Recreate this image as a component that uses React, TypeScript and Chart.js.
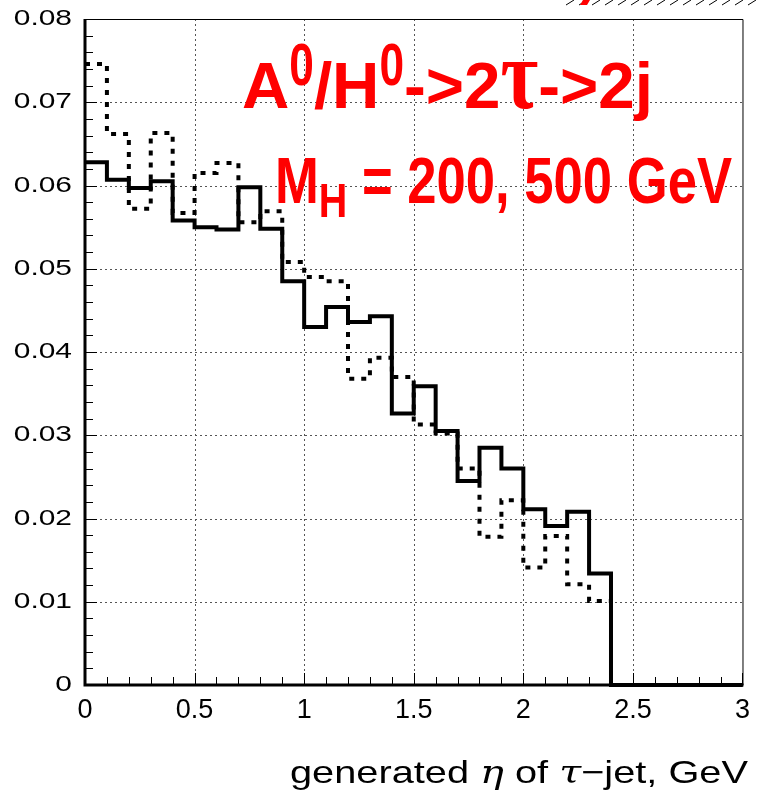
import React, { useEffect, useRef } from "react";
import { Chart, registerables } from "chart.js";

Chart.register(...registerables);

// Bin edges (eta), 0.1 wide bins
const binEdges = [
  0, 0.1, 0.2, 0.3, 0.4, 0.5, 0.6, 0.7, 0.8, 0.9, 1.0, 1.1, 1.2, 1.3, 1.4, 1.5,
  1.6, 1.7, 1.8, 1.9, 2.0, 2.1, 2.2, 2.3, 2.4, 2.5, 2.6, 2.7, 2.8, 2.9, 3.0,
];

// Solid histogram (M_H = 200 GeV)
const solidValues = [
  0.0628, 0.0607, 0.0597, 0.0605, 0.0558, 0.055, 0.0547, 0.0598, 0.0548, 0.0485,
  0.043, 0.0454, 0.0436, 0.0443, 0.0326, 0.0359, 0.0305, 0.0245, 0.0285, 0.026,
  0.0211, 0.0191, 0.0208, 0.0134, 0, 0, 0, 0, 0, 0,
];

// Dotted histogram (M_H = 500 GeV)
const dottedValues = [
  0.0746, 0.0662, 0.0572, 0.0663, 0.0567, 0.0615, 0.0627, 0.0556, 0.0569, 0.0508,
  0.049, 0.0485, 0.0368, 0.0393, 0.037, 0.0313, 0.0302, 0.026, 0.0178, 0.0222,
  0.0141, 0.0179, 0.0121, 0.0101, 0, 0, 0, 0, 0, 0,
];

const xTickLabels = ["0", "0.5", "1", "1.5", "2", "2.5", "3"];
const yTickValues = [0, 0.01, 0.02, 0.03, 0.04, 0.05, 0.06, 0.07, 0.08];
const yTickLabels = ["0", "0.01", "0.02", "0.03", "0.04", "0.05", "0.06", "0.07", "0.08"];
const xGridValues = [0.5, 1.0, 1.5, 2.0, 2.5];
const yGridValues = [0.01, 0.02, 0.03, 0.04, 0.05, 0.06, 0.07];

// point i (left edge of bin i) carries bin i's value; the last edge repeats the last bin
const toPoints = (vals: number[]) =>
  binEdges.map((x, i) => ({ x, y: vals[Math.min(i, vals.length - 1)] }));

type Seg = { text: string; font: string; dy?: number; sx?: number; sy?: number };

function drawRich(
  ctx: CanvasRenderingContext2D,
  segs: Seg[],
  left: number,
  baseline: number,
  targetWidth: number,
  color: string
) {
  let total = 0;
  const widths = segs.map((s) => {
    ctx.font = s.font;
    const w = ctx.measureText(s.text).width * (s.sx ?? 1);
    total += w;
    return w;
  });
  const k = targetWidth / total;
  let x = left;
  segs.forEach((s, i) => {
    ctx.save();
    ctx.translate(x, baseline + (s.dy ?? 0));
    ctx.scale(k * (s.sx ?? 1), s.sy ?? 1);
    ctx.font = s.font;
    ctx.fillStyle = color;
    ctx.textAlign = "left";
    ctx.textBaseline = "alphabetic";
    ctx.fillText(s.text, 0, 0);
    ctx.restore();
    x += widths[i] * k;
  });
}

const decor = {
  id: "decor",
  beforeDatasetsDraw(chart: any) {
    const { ctx, chartArea: a, scales } = chart;
    const xs = scales.x;
    const ys = scales.y;
    ctx.save();
    ctx.strokeStyle = "#555";
    ctx.lineWidth = 1;
    ctx.setLineDash([2, 3]);
    yGridValues.forEach((v) => {
      const py = Math.round(ys.getPixelForValue(v)) + 0.5;
      ctx.beginPath();
      ctx.moveTo(a.left, py);
      ctx.lineTo(a.right, py);
      ctx.stroke();
    });
    xGridValues.forEach((v) => {
      const px = Math.round(xs.getPixelForValue(v)) + 0.5;
      ctx.beginPath();
      ctx.moveTo(px, a.top);
      ctx.lineTo(px, a.bottom);
      ctx.stroke();
    });
    ctx.restore();
  },
  afterDraw(chart: any) {
    const { ctx, chartArea: a, scales } = chart;
    const xs = scales.x;
    const ys = scales.y;
    ctx.save();
    ctx.setLineDash([]);
    ctx.strokeStyle = "#000";
    // thin top / right frame
    ctx.lineWidth = 1;
    ctx.beginPath();
    ctx.moveTo(a.left, a.top + 0.5);
    ctx.lineTo(a.right + 0.5, a.top + 0.5);
    ctx.lineTo(a.right + 0.5, a.bottom);
    ctx.stroke();
    // minor ticks
    for (let i = 0; i <= 40; i++) {
      const py = Math.round(ys.getPixelForValue(i * 0.002)) + 0.5;
      const len = i % 5 === 0 ? 12 : 8;
      ctx.beginPath();
      ctx.moveTo(a.left, py);
      ctx.lineTo(a.left + len, py);
      ctx.stroke();
    }
    for (let i = 0; i <= 30; i++) {
      const px = Math.round(xs.getPixelForValue(i * 0.1)) + 0.5;
      const len = i % 5 === 0 ? 12 : 8;
      ctx.beginPath();
      ctx.moveTo(px, a.bottom);
      ctx.lineTo(px, a.bottom - len);
      ctx.stroke();
    }
    // thick left / bottom axes
    ctx.lineWidth = 3;
    ctx.beginPath();
    ctx.moveTo(a.left, a.top);
    ctx.lineTo(a.left, a.bottom);
    ctx.lineTo(a.right + 1, a.bottom);
    ctx.stroke();

    // y tick labels (wide font)
    ctx.fillStyle = "#000";
    yTickValues.forEach((v, i) => {
      const py = ys.getPixelForValue(v);
      ctx.save();
      ctx.translate(72, py);
      ctx.scale(1.36, 1);
      ctx.font = '22px "Liberation Sans"';
      ctx.textAlign = "right";
      ctx.textBaseline = "middle";
      ctx.fillText(yTickLabels[i], 0, 0);
      ctx.restore();
    });

    // red annotation, line 1
    const b64 = 'bold 64px "Liberation Sans"';
    const sup: Seg = { text: "0", font: 'bold 60px "Liberation Sans"', sx: 0.72, dy: -23 };
    drawRich(
      ctx,
      [
        { text: "A", font: b64 },
        sup,
        { text: "/H", font: b64 },
        sup,
        { text: "->2", font: b64 },
        { text: "τ", font: 'bold 80px "Liberation Serif"', sy: 1.25 },
        { text: "->2j", font: b64 },
      ],
      242,
      108,
      411,
      "#ff0000"
    );
    // red annotation, line 2
    drawRich(
      ctx,
      [
        { text: "M", font: b64 },
        { text: "H", font: 'bold 48px "Liberation Sans"', dy: 14 },
        { text: " = 200, 500 GeV", font: b64 },
      ],
      275,
      203,
      457,
      "#ff0000"
    );

    // x axis title
    const sans = '32px "Liberation Sans"';
    const greek = 'italic 32px "DejaVu Serif"';
    drawRich(
      ctx,
      [
        { text: "generated ", font: sans },
        { text: "η", font: greek },
        { text: " of ", font: sans },
        { text: "τ", font: greek },
        { text: "−jet, GeV", font: sans },
      ],
      290,
      783,
      458,
      "#000"
    );

    // cut-off hatched box at the top right
    ctx.lineWidth = 1;
    ctx.strokeStyle = "#000";
    for (let x = 566; x < 756; x += 13) {
      ctx.beginPath();
      ctx.moveTo(x, 5);
      ctx.lineTo(x + 8, 0);
      ctx.stroke();
    }
    ctx.fillStyle = "#ff0000";
    ctx.beginPath();
    ctx.moveTo(580, 5);
    ctx.lineTo(587, 5);
    ctx.lineTo(590, 0);
    ctx.lineTo(583, 0);
    ctx.closePath();
    ctx.fill();
    ctx.restore();
  },
};

export default function App() {
  const ref = useRef<HTMLCanvasElement | null>(null);
  useEffect(() => {
    if (!ref.current) return;
    const chart = new Chart(ref.current, {
      type: "line",
      data: {
        datasets: [
          {
            data: toPoints(solidValues),
            borderColor: "#000",
            borderWidth: 4,
            stepped: "before",
            pointRadius: 0,
            fill: false,
            clip: false as any,
            borderCapStyle: "butt",
            borderJoinStyle: "miter",
          },
          {
            data: toPoints(dottedValues),
            borderColor: "#000",
            borderWidth: 4,
            borderDash: [5, 7],
            stepped: "before",
            pointRadius: 0,
            fill: false,
            clip: false as any,
            borderCapStyle: "butt",
            borderJoinStyle: "miter",
          },
        ],
      },
      options: {
        animation: false,
        responsive: false,
        events: [],
        layout: { padding: { top: 19, right: 10, left: 0, bottom: 0 } },
        plugins: { legend: { display: false }, tooltip: { enabled: false } },
        scales: {
          x: {
            type: "linear",
            min: 0,
            max: 3,
            grid: { display: false, drawTicks: false },
            border: { display: false },
            ticks: {
              stepSize: 0.5,
              autoSkip: false,
              maxRotation: 0,
              padding: 9,
              color: "#000",
              font: { family: "Liberation Sans", size: 27 },
              callback: (_v: any, i: number) => xTickLabels[i],
            },
            afterFit: (s: any) => {
              s.height = 107;
            },
          },
          y: {
            type: "linear",
            min: 0,
            max: 0.08,
            grid: { display: false, drawTicks: false },
            border: { display: false },
            ticks: { stepSize: 0.01, display: false },
            afterFit: (s: any) => {
              s.width = 85;
            },
          },
        },
      },
      plugins: [decor],
    });
    return () => chart.destroy();
  }, []);
  return (
    <div style={{ position: "absolute", left: 0, top: 0 }}>
      <canvas ref={ref} width={759} height={792} style={{ display: "block" }} />
    </div>
  );
}
